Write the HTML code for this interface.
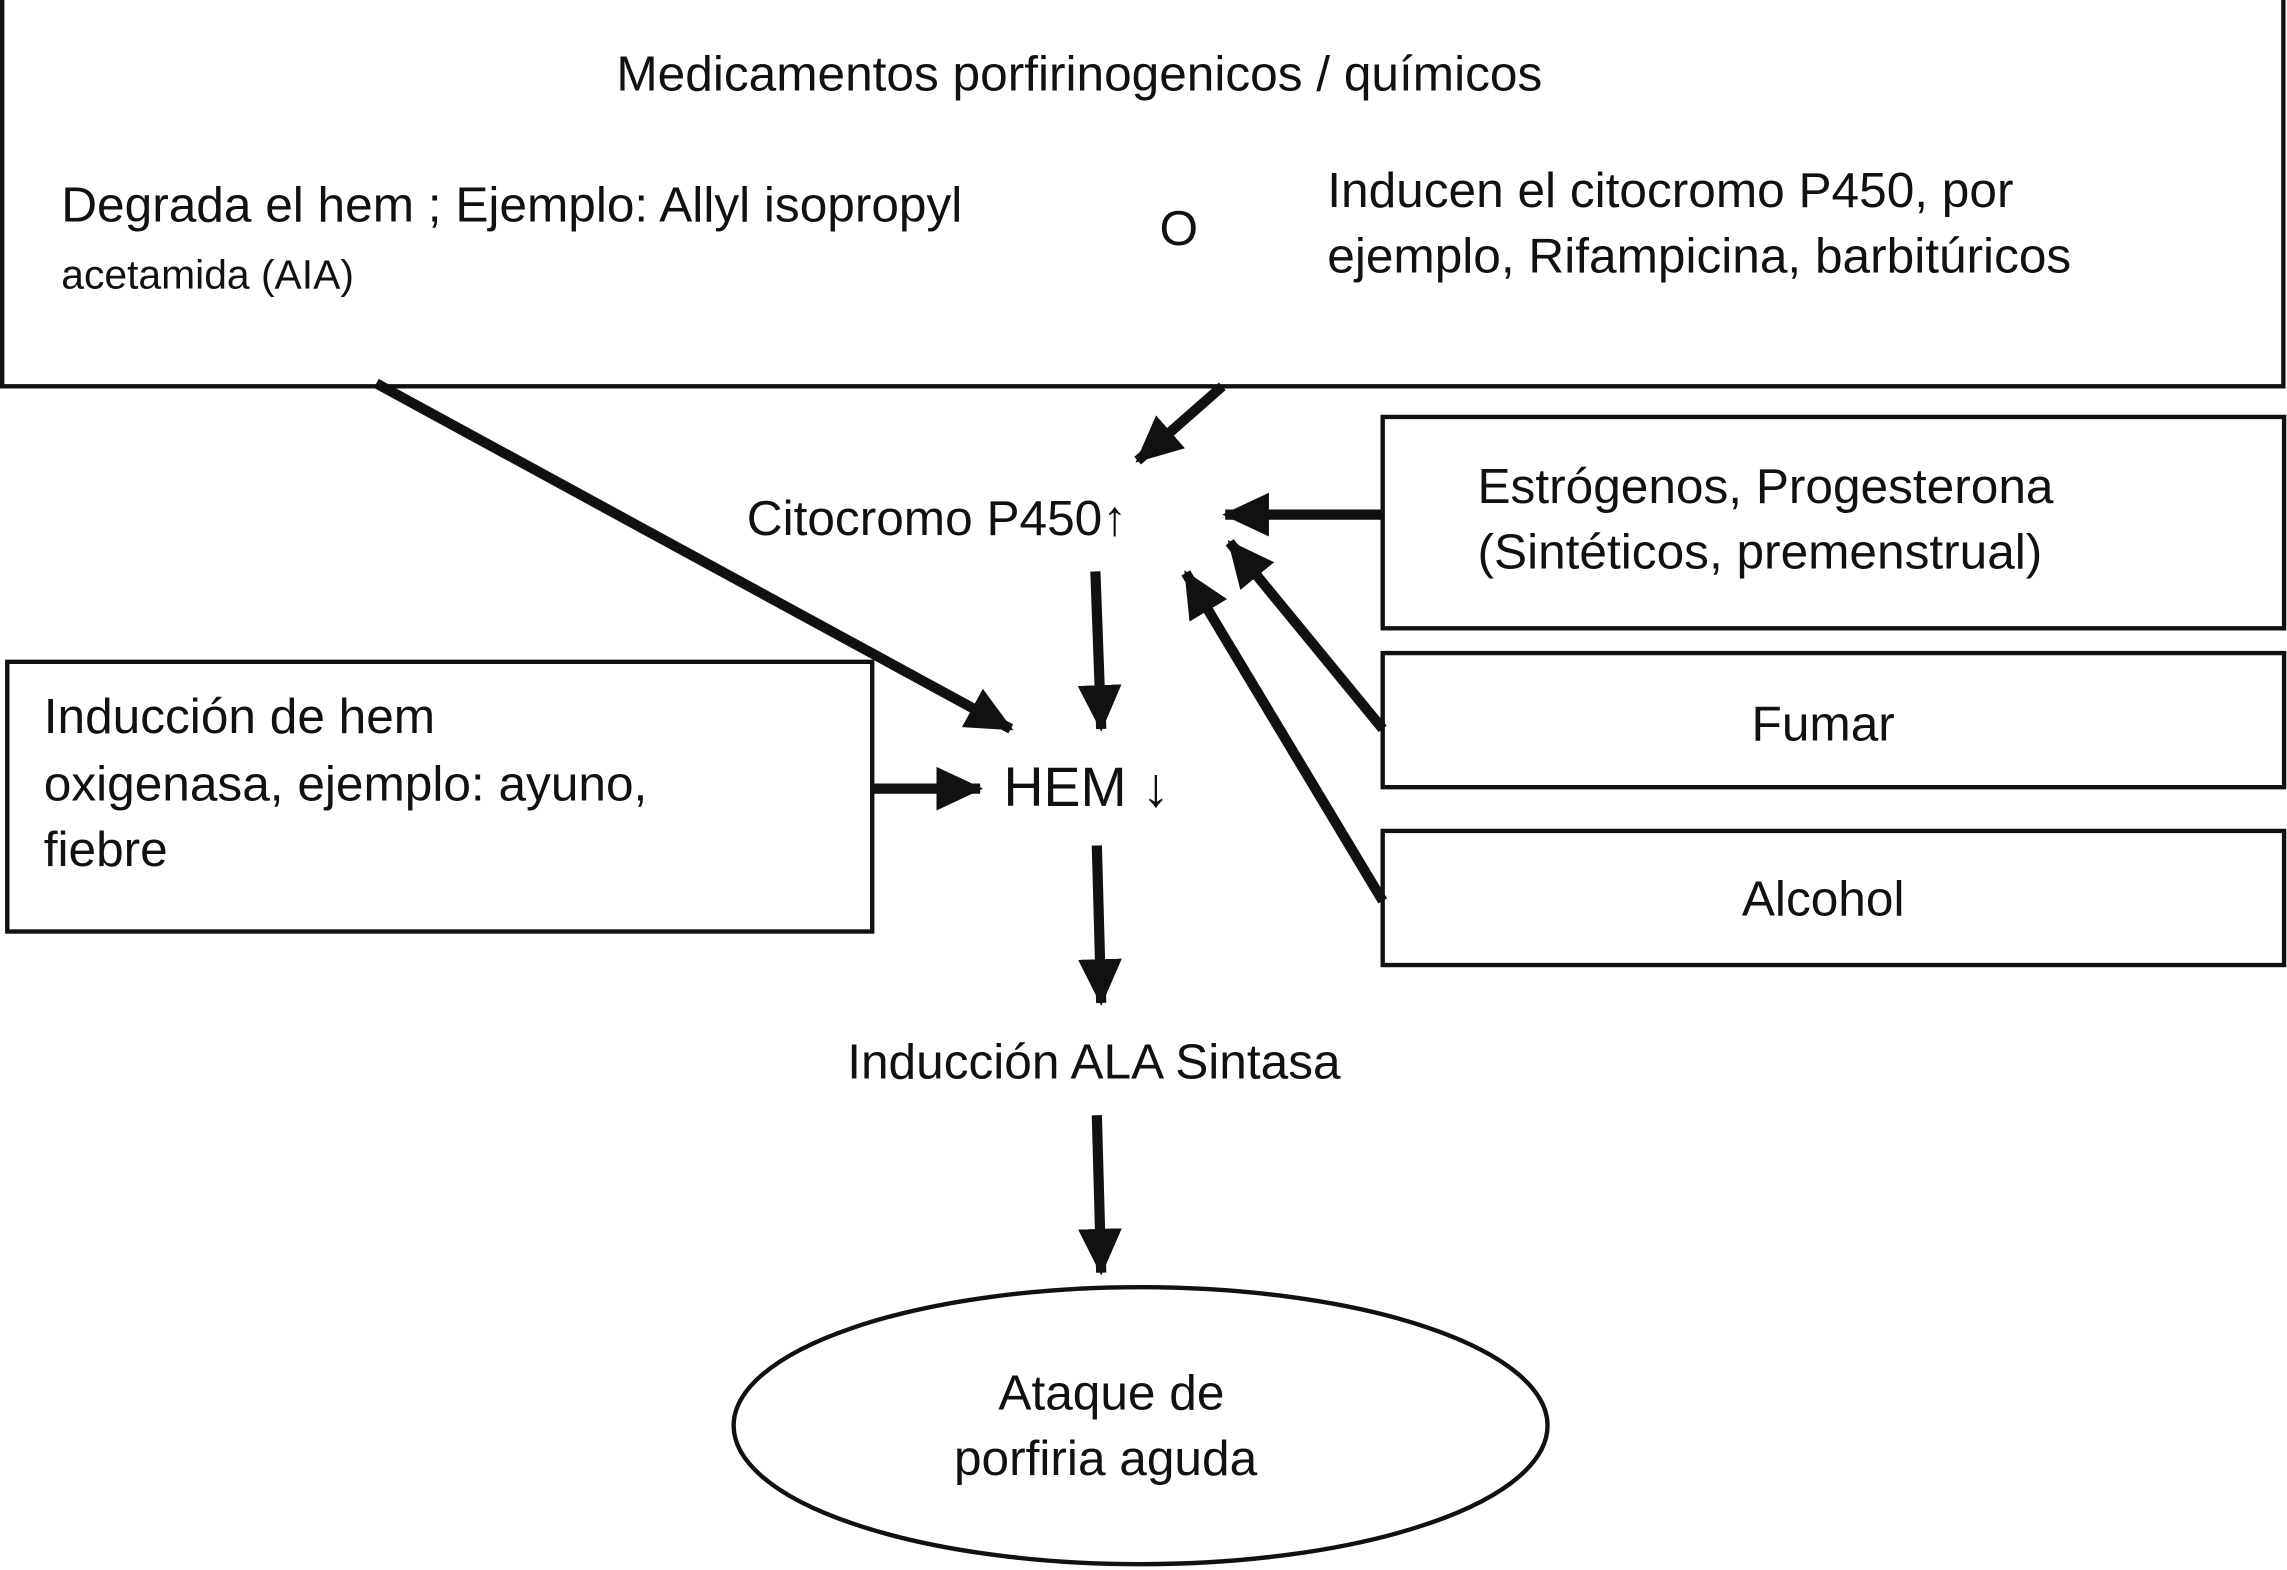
<!DOCTYPE html>
<html><head><meta charset="utf-8"><style>
html,body{margin:0;padding:0;background:#fff}
svg{display:block}
text{font-family:"Liberation Sans",sans-serif;fill:#111}
</style></head><body>
<svg width="2287" height="1570" viewBox="0 0 1568 1077" preserveAspectRatio="none" xmlns="http://www.w3.org/2000/svg">
<defs>
<marker id="a" markerUnits="userSpaceOnUse" markerWidth="34" markerHeight="34" refX="30" refY="17" orient="auto" viewBox="0 0 34 34">
<path d="M0,2 L32,17 L0,32 Z" fill="#111"/>
</marker>
</defs>
<g fill="none" stroke="#111" stroke-width="3">
<rect x="1.5" y="-2" width="1564" height="267"/>
<rect x="948" y="286" width="618" height="145"/>
<rect x="948" y="448" width="618" height="92"/>
<rect x="948" y="570" width="618" height="92"/>
<rect x="5" y="454" width="593" height="185"/>
<ellipse cx="782" cy="978" rx="279" ry="95"/>
</g>
<g stroke="#111" stroke-width="7" marker-end="url(#a)">
<line x1="258" y1="263" x2="693" y2="500"/>
<line x1="838" y1="265" x2="780" y2="316"/>
<line x1="948" y1="353" x2="840" y2="353"/>
<line x1="948" y1="500" x2="843" y2="372"/>
<line x1="948" y1="618" x2="813" y2="393"/>
<line x1="598" y1="541" x2="672" y2="541"/>
<line x1="751" y1="392" x2="755" y2="500"/>
<line x1="752" y1="580" x2="755" y2="688"/>
<line x1="752" y1="765" x2="755" y2="873"/>
</g>
<g font-size="34">
<text x="740" y="62" text-anchor="middle">Medicamentos porfirinogenicos / químicos</text>
<text x="42" y="152">Degrada el hem ; Ejemplo: Allyl isopropyl</text>
<text x="42" y="198" font-size="28">acetamida (AIA)</text>
<text x="795" y="168">O</text>
<text x="910" y="142">Inducen el citocromo P450, por</text>
<text x="910" y="187">ejemplo, Rifampicina, barbitúricos</text>
<text x="1013" y="345">Estrógenos, Progesterona</text>
<text x="1013" y="390">(Sintéticos, premenstrual)</text>
<text x="1250" y="508" text-anchor="middle">Fumar</text>
<text x="1250" y="628" text-anchor="middle">Alcohol</text>
<text x="30" y="503">Inducción de hem</text>
<text x="30" y="549">oxigenasa, ejemplo: ayuno,</text>
<text x="30" y="594">fiebre</text>
<text x="512" y="367">Citocromo P450↑</text>
<text x="688" y="553" font-size="38">HEM ↓</text>
<text x="750" y="740" text-anchor="middle">Inducción ALA Sintasa</text>
<text x="762" y="967" text-anchor="middle">Ataque de</text>
<text x="758" y="1012" text-anchor="middle">porfiria aguda</text>
</g>
</svg>
</body></html>
